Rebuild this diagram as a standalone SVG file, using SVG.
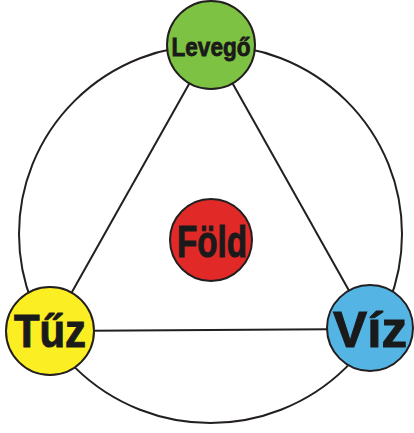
<svg xmlns="http://www.w3.org/2000/svg" width="414" height="433" viewBox="0 0 414 433">
<style>
.ln{fill:none;stroke:#231f20;stroke-width:2}
.nd{stroke:#231f20;stroke-width:2}
.lb{font-family:"Liberation Sans",Arial,sans-serif;font-weight:bold;fill:#1a1a1a;stroke:#1a1a1a;text-anchor:middle}
</style>
<rect width="414" height="433" fill="#ffffff"/>
<g id="connectors">
<ellipse class="ln" cx="210.5" cy="234" rx="191.5" ry="189"/>
<line class="ln" x1="211" y1="45" x2="50" y2="331"/>
<line class="ln" x1="211" y1="45" x2="370" y2="328"/>
<line class="ln" x1="50" y1="331" x2="370" y2="329"/>
</g>
<g id="levego">
<circle class="nd" cx="211" cy="45" r="44" fill="#7dc242"/>
<text class="lb" x="211" y="56" font-size="26" stroke-width="0.8" textLength="79" lengthAdjust="spacingAndGlyphs">Levegő</text>
</g>
<g id="fold">
<circle class="nd" cx="211" cy="240" r="41" fill="#e12a27"/>
<text class="lb" x="212" y="257" font-size="44" stroke-width="1" textLength="70" lengthAdjust="spacingAndGlyphs">Föld</text>
</g>
<g id="tuz">
<circle class="nd" cx="50" cy="331" r="44" fill="#fbee23"/>
<text class="lb" x="50" y="347" font-size="46" stroke-width="1" textLength="72" lengthAdjust="spacingAndGlyphs">Tűz</text>
</g>
<g id="viz">
<circle class="nd" cx="370" cy="328" r="43" fill="#54b5e5"/>
<text class="lb" x="370" y="347" font-size="50" stroke-width="1" textLength="74" lengthAdjust="spacingAndGlyphs">Víz</text>
</g>
</svg>
